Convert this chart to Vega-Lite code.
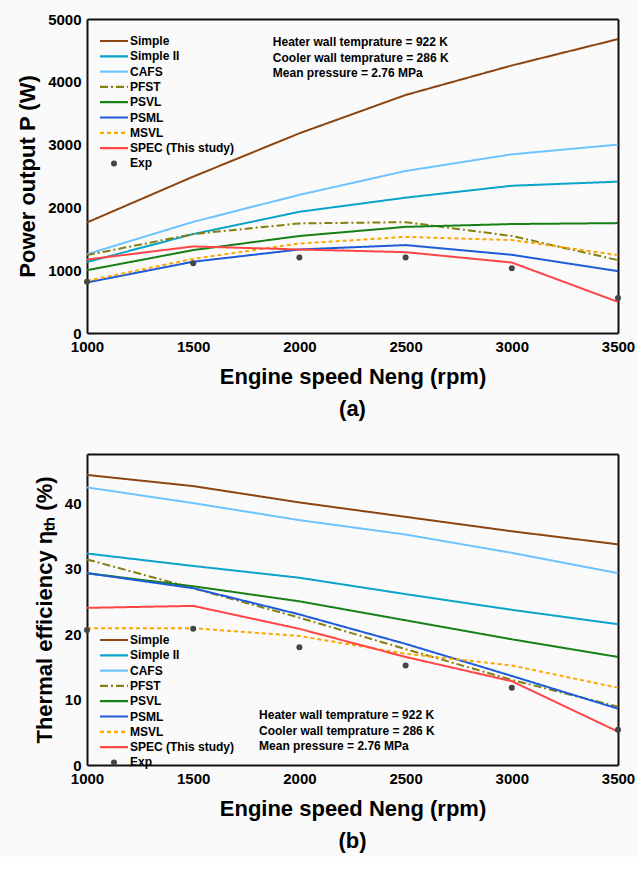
{
  "$schema": "https://vega.github.io/schema/vega-lite/v6.json",
  "background": "#fafafa",
  "padding": {"left": 16, "top": 12, "right": 2, "bottom": 5},
  "config": {
    "font": "Liberation Sans",
    "view": {"stroke": null},
    "axis": {
      "grid": false,
      "domain": true,
      "domainColor": "#111111",
      "domainWidth": 2,
      "ticks": true,
      "tickColor": "#111111",
      "tickWidth": 2,
      "tickSize": 0,
      "labelFont": "Liberation Sans",
      "labelFontWeight": "bold",
      "labelFontSize": 15,
      "labelColor": "black",
      "labelPadding": 6,
      "labelFlush": false,
      "labelOverlap": false,
      "titleFont": "Liberation Sans",
      "titleFontWeight": "bold",
      "titleFontSize": 22,
      "titleColor": "black"
    },
    "legend": {
      "labelFont": "Liberation Sans",
      "labelFontWeight": "bold",
      "labelFontSize": 12,
      "labelColor": "black",
      "symbolStrokeWidth": 2,
      "rowPadding": 3.3
    },
    "title": {"font": "Liberation Sans", "fontWeight": "bold", "fontSize": 22, "color": "black"}
  },
  "datasets": {
    "power": [
      {"model": "Simple", "speed": 1000, "value": 1760},
      {"model": "Simple", "speed": 1500, "value": 2490},
      {"model": "Simple", "speed": 2000, "value": 3180},
      {"model": "Simple", "speed": 2500, "value": 3790},
      {"model": "Simple", "speed": 3000, "value": 4260},
      {"model": "Simple", "speed": 3500, "value": 4680},
      {"model": "Simple II", "speed": 1000, "value": 1130},
      {"model": "Simple II", "speed": 1500, "value": 1575},
      {"model": "Simple II", "speed": 2000, "value": 1930},
      {"model": "Simple II", "speed": 2500, "value": 2155},
      {"model": "Simple II", "speed": 3000, "value": 2345},
      {"model": "Simple II", "speed": 3500, "value": 2410},
      {"model": "CAFS", "speed": 1000, "value": 1255},
      {"model": "CAFS", "speed": 1500, "value": 1770},
      {"model": "CAFS", "speed": 2000, "value": 2200},
      {"model": "CAFS", "speed": 2500, "value": 2580},
      {"model": "CAFS", "speed": 3000, "value": 2845},
      {"model": "CAFS", "speed": 3500, "value": 3000},
      {"model": "PFST", "speed": 1000, "value": 1240},
      {"model": "PFST", "speed": 1500, "value": 1575},
      {"model": "PFST", "speed": 2000, "value": 1745},
      {"model": "PFST", "speed": 2500, "value": 1765},
      {"model": "PFST", "speed": 3000, "value": 1545},
      {"model": "PFST", "speed": 3500, "value": 1160},
      {"model": "PSVL", "speed": 1000, "value": 1000},
      {"model": "PSVL", "speed": 1500, "value": 1320},
      {"model": "PSVL", "speed": 2000, "value": 1545},
      {"model": "PSVL", "speed": 2500, "value": 1690},
      {"model": "PSVL", "speed": 3000, "value": 1735},
      {"model": "PSVL", "speed": 3500, "value": 1750},
      {"model": "PSML", "speed": 1000, "value": 805},
      {"model": "PSML", "speed": 1500, "value": 1135},
      {"model": "PSML", "speed": 2000, "value": 1330},
      {"model": "PSML", "speed": 2500, "value": 1400},
      {"model": "PSML", "speed": 3000, "value": 1245},
      {"model": "PSML", "speed": 3500, "value": 985},
      {"model": "MSVL", "speed": 1000, "value": 830},
      {"model": "MSVL", "speed": 1500, "value": 1180},
      {"model": "MSVL", "speed": 2000, "value": 1425},
      {"model": "MSVL", "speed": 2500, "value": 1530},
      {"model": "MSVL", "speed": 3000, "value": 1480},
      {"model": "MSVL", "speed": 3500, "value": 1240},
      {"model": "SPEC (This study)", "speed": 1000, "value": 1170},
      {"model": "SPEC (This study)", "speed": 1500, "value": 1378},
      {"model": "SPEC (This study)", "speed": 2000, "value": 1330},
      {"model": "SPEC (This study)", "speed": 2500, "value": 1287},
      {"model": "SPEC (This study)", "speed": 3000, "value": 1122},
      {"model": "SPEC (This study)", "speed": 3500, "value": 495},
      {"model": "Exp", "speed": 1000, "value": 815},
      {"model": "Exp", "speed": 1500, "value": 1112},
      {"model": "Exp", "speed": 2000, "value": 1202},
      {"model": "Exp", "speed": 2500, "value": 1202},
      {"model": "Exp", "speed": 3000, "value": 1032},
      {"model": "Exp", "speed": 3500, "value": 558}
    ],
    "efficiency": [
      {"model": "Simple", "speed": 1000, "value": 44.3},
      {"model": "Simple", "speed": 1500, "value": 42.6},
      {"model": "Simple", "speed": 2000, "value": 40.1},
      {"model": "Simple", "speed": 2500, "value": 37.9},
      {"model": "Simple", "speed": 3000, "value": 35.7},
      {"model": "Simple", "speed": 3500, "value": 33.7},
      {"model": "Simple II", "speed": 1000, "value": 32.3},
      {"model": "Simple II", "speed": 1500, "value": 30.4},
      {"model": "Simple II", "speed": 2000, "value": 28.6},
      {"model": "Simple II", "speed": 2500, "value": 26.1},
      {"model": "Simple II", "speed": 3000, "value": 23.7},
      {"model": "Simple II", "speed": 3500, "value": 21.5},
      {"model": "CAFS", "speed": 1000, "value": 42.4},
      {"model": "CAFS", "speed": 1500, "value": 40.0},
      {"model": "CAFS", "speed": 2000, "value": 37.4},
      {"model": "CAFS", "speed": 2500, "value": 35.2},
      {"model": "CAFS", "speed": 3000, "value": 32.4},
      {"model": "CAFS", "speed": 3500, "value": 29.3},
      {"model": "PFST", "speed": 1000, "value": 31.4},
      {"model": "PFST", "speed": 1500, "value": 27.0},
      {"model": "PFST", "speed": 2000, "value": 22.5},
      {"model": "PFST", "speed": 2500, "value": 17.7},
      {"model": "PFST", "speed": 3000, "value": 13.0},
      {"model": "PFST", "speed": 3500, "value": 8.9},
      {"model": "PSVL", "speed": 1000, "value": 29.3},
      {"model": "PSVL", "speed": 1500, "value": 27.3},
      {"model": "PSVL", "speed": 2000, "value": 25.0},
      {"model": "PSVL", "speed": 2500, "value": 22.1},
      {"model": "PSVL", "speed": 3000, "value": 19.2},
      {"model": "PSVL", "speed": 3500, "value": 16.5},
      {"model": "PSML", "speed": 1000, "value": 29.3},
      {"model": "PSML", "speed": 1500, "value": 27.0},
      {"model": "PSML", "speed": 2000, "value": 23.0},
      {"model": "PSML", "speed": 2500, "value": 18.5},
      {"model": "PSML", "speed": 3000, "value": 13.6},
      {"model": "PSML", "speed": 3500, "value": 8.6},
      {"model": "MSVL", "speed": 1000, "value": 20.9},
      {"model": "MSVL", "speed": 1500, "value": 20.9},
      {"model": "MSVL", "speed": 2000, "value": 19.7},
      {"model": "MSVL", "speed": 2500, "value": 17.0},
      {"model": "MSVL", "speed": 3000, "value": 15.2},
      {"model": "MSVL", "speed": 3500, "value": 11.8},
      {"model": "SPEC (This study)", "speed": 1000, "value": 24.0},
      {"model": "SPEC (This study)", "speed": 1500, "value": 24.3},
      {"model": "SPEC (This study)", "speed": 2000, "value": 20.8},
      {"model": "SPEC (This study)", "speed": 2500, "value": 16.5},
      {"model": "SPEC (This study)", "speed": 3000, "value": 12.8},
      {"model": "SPEC (This study)", "speed": 3500, "value": 5.1},
      {"model": "Exp", "speed": 1000, "value": 20.6},
      {"model": "Exp", "speed": 1500, "value": 20.8},
      {"model": "Exp", "speed": 2000, "value": 18.0},
      {"model": "Exp", "speed": 2500, "value": 15.2},
      {"model": "Exp", "speed": 3000, "value": 11.8},
      {"model": "Exp", "speed": 3500, "value": 5.4}
    ]
  },
  "resolve": {
    "scale": {"color": "independent", "strokeDash": "independent"},
    "legend": {"color": "independent", "strokeDash": "independent"}
  },
  "spacing": 33,
  "vconcat": [
    {
      "width": 531,
      "height": 314,
      "data": {"name": "power"},
      "title": {"text": "(a)", "orient": "bottom", "offset": 12},
      "resolve": {"axis": {"x": "independent", "y": "independent"}},
      "layer": [
        {
          "transform": [{"filter": "datum.model !== 'Exp'"}],
          "mark": {"type": "line", "strokeWidth": 2},
          "encoding": {
            "x": {
              "field": "speed", "type": "quantitative",
              "scale": {"domain": [1000, 3500], "nice": false, "zero": false},
              "axis": {
                "orient": "bottom", "title": "Engine speed Neng (rpm)", "format": "d",
                "values": [1000, 1250, 1500, 1750, 2000, 2250, 2500, 2750, 3000, 3250, 3500],
                "labelExpr": "datum.value % 500 === 0 ? datum.label : ''",
                "titlePadding": 12,
                "encode": {"ticks": {"update": {"y2": {"signal": "datum.value % 500 === 0 ? -7 : -4"}}}}
              }
            },
            "y": {
              "field": "value", "type": "quantitative",
              "scale": {"domain": [0, 5000], "nice": false},
              "axis": {
                "orient": "left", "title": "Power output P (W)", "format": "d",
                "values": [0, 500, 1000, 1500, 2000, 2500, 3000, 3500, 4000, 4500, 5000],
                "labelExpr": "datum.value % 1000 === 0 ? datum.label : ''",
                "titlePadding": 8,
                "encode": {"ticks": {"update": {"x2": {"signal": "datum.value % 1000 === 0 ? 7 : 4"}}}}
              }
            },
            "color": {
              "field": "model", "type": "nominal",
              "scale": {
                "domain": ["Simple", "Simple II", "CAFS", "PFST", "PSVL", "PSML", "MSVL", "SPEC (This study)", "Exp"],
                "range": ["#8b4513", "#0aa3c9", "#6ec3ff", "#857f0f", "#168016", "#1e5bd8", "#ffa500", "#ff4545", "#444444"]
              },
              "legend": {
                "title": null, "orient": "none", "legendX": 21, "legendY": 16,
                "symbolType": "M-2,0L2,0", "symbolSize": 196, "labelOffset": 10,
                "encode": {"symbols": {"update": {
                  "shape": {"signal": "datum.value === 'Exp' ? 'circle' : 'M-2,0L2,0'"},
                  "size": {"signal": "datum.value === 'Exp' ? 36 : 196"},
                  "fill": {"signal": "datum.value === 'Exp' ? '#444444' : 'transparent'"},
                  "strokeWidth": {"signal": "datum.value === 'Exp' ? 0 : 2.2"},
                  "strokeDash": {"signal": "datum.value === 'PFST' ? [8, 3, 2, 3] : datum.value === 'MSVL' ? [4, 3] : [1, 0]"}
                }}}
              }
            },
            "strokeDash": {
              "field": "model", "type": "nominal",
              "scale": {
                "domain": ["Simple", "Simple II", "CAFS", "PFST", "PSVL", "PSML", "MSVL", "SPEC (This study)"],
                "range": [[1, 0], [1, 0], [1, 0], [8, 3, 2, 3], [1, 0], [1, 0], [4, 3], [1, 0]]
              },
              "legend": null
            }
          }
        },
        {
          "transform": [{"filter": "datum.model === 'Exp'"}],
          "mark": {"type": "point", "filled": true, "size": 36, "opacity": 1},
          "encoding": {
            "x": {
              "field": "speed", "type": "quantitative",
              "axis": {
                "orient": "top", "title": null, "labels": false,
                "values": [1000, 1250, 1500, 1750, 2000, 2250, 2500, 2750, 3000, 3250, 3500],
                "encode": {"ticks": {"update": {"y2": {"signal": "datum.value % 500 === 0 ? 7 : 4"}}}}
              }
            },
            "y": {
              "field": "value", "type": "quantitative",
              "axis": {
                "orient": "right", "title": null, "labels": false,
                "values": [0, 500, 1000, 1500, 2000, 2500, 3000, 3500, 4000, 4500, 5000],
                "encode": {"ticks": {"update": {"x2": {"signal": "datum.value % 1000 === 0 ? -7 : -4"}}}}
              }
            },
            "color": {"field": "model", "type": "nominal"}
          }
        },
        {
          "data": {"values": [{}]},
          "mark": {"type": "text", "align": "left", "baseline": "middle", "fontSize": 12, "fontWeight": "bold", "lineBreak": "\n", "lineHeight": 15.5, "color": "black"},
          "encoding": {
            "x": {"datum": 1875, "type": "quantitative", "axis": null},
            "y": {"datum": 4630, "type": "quantitative", "axis": null},
            "text": {"value": "Heater wall temprature = 922 K\nCooler wall temprature = 286 K\nMean pressure = 2.76 MPa"}
          }
        }
      ]
    },
    {
      "width": 531,
      "height": 311,
      "data": {"name": "efficiency"},
      "title": {"text": "(b)", "orient": "bottom", "offset": 12},
      "resolve": {"axis": {"x": "independent", "y": "independent"}},
      "layer": [
        {
          "transform": [{"filter": "datum.model !== 'Exp'"}],
          "mark": {"type": "line", "strokeWidth": 2},
          "encoding": {
            "x": {
              "field": "speed", "type": "quantitative",
              "scale": {"domain": [1000, 3500], "nice": false, "zero": false},
              "axis": {
                "orient": "bottom", "title": "Engine speed Neng (rpm)", "format": "d",
                "values": [1000, 1250, 1500, 1750, 2000, 2250, 2500, 2750, 3000, 3250, 3500],
                "labelExpr": "datum.value % 500 === 0 ? datum.label : ''",
                "titlePadding": 12,
                "encode": {"ticks": {"update": {"y2": {"signal": "datum.value % 500 === 0 ? -7 : -4"}}}}
              }
            },
            "y": {
              "field": "value", "type": "quantitative",
              "scale": {"domain": [0, 47.5], "nice": false},
              "axis": {
                "orient": "left", "title": "Thermal efficiency ηₜₕ (%)", "format": "d",
                "values": [0, 5, 10, 15, 20, 25, 30, 35, 40, 45],
                "labelExpr": "datum.value % 10 === 0 ? datum.label : ''",
                "titlePadding": 8,
                "encode": {"ticks": {"update": {"x2": {"signal": "datum.value % 10 === 0 ? 7 : 4"}}}}
              }
            },
            "color": {
              "field": "model", "type": "nominal",
              "scale": {
                "domain": ["Simple", "Simple II", "CAFS", "PFST", "PSVL", "PSML", "MSVL", "SPEC (This study)", "Exp"],
                "range": ["#8b4513", "#0aa3c9", "#6ec3ff", "#857f0f", "#168016", "#1e5bd8", "#ffa500", "#ff4545", "#444444"]
              },
              "legend": {
                "title": null, "orient": "none", "legendX": 21, "legendY": 180,
                "symbolType": "M-2,0L2,0", "symbolSize": 196, "labelOffset": 10,
                "encode": {"symbols": {"update": {
                  "shape": {"signal": "datum.value === 'Exp' ? 'circle' : 'M-2,0L2,0'"},
                  "size": {"signal": "datum.value === 'Exp' ? 36 : 196"},
                  "fill": {"signal": "datum.value === 'Exp' ? '#444444' : 'transparent'"},
                  "strokeWidth": {"signal": "datum.value === 'Exp' ? 0 : 2.2"},
                  "strokeDash": {"signal": "datum.value === 'PFST' ? [8, 3, 2, 3] : datum.value === 'MSVL' ? [4, 3] : [1, 0]"}
                }}}
              }
            },
            "strokeDash": {
              "field": "model", "type": "nominal",
              "scale": {
                "domain": ["Simple", "Simple II", "CAFS", "PFST", "PSVL", "PSML", "MSVL", "SPEC (This study)"],
                "range": [[1, 0], [1, 0], [1, 0], [8, 3, 2, 3], [1, 0], [1, 0], [4, 3], [1, 0]]
              },
              "legend": null
            }
          }
        },
        {
          "transform": [{"filter": "datum.model === 'Exp'"}],
          "mark": {"type": "point", "filled": true, "size": 36, "opacity": 1},
          "encoding": {
            "x": {
              "field": "speed", "type": "quantitative",
              "axis": {
                "orient": "top", "title": null, "labels": false,
                "values": [1000, 1250, 1500, 1750, 2000, 2250, 2500, 2750, 3000, 3250, 3500],
                "encode": {"ticks": {"update": {"y2": {"signal": "datum.value % 500 === 0 ? 7 : 4"}}}}
              }
            },
            "y": {
              "field": "value", "type": "quantitative",
              "axis": {
                "orient": "right", "title": null, "labels": false,
                "values": [0, 5, 10, 15, 20, 25, 30, 35, 40, 45],
                "encode": {"ticks": {"update": {"x2": {"signal": "datum.value % 10 === 0 ? -7 : -4"}}}}
              }
            },
            "color": {"field": "model", "type": "nominal"}
          }
        },
        {
          "data": {"values": [{}]},
          "mark": {"type": "text", "align": "left", "baseline": "middle", "fontSize": 12, "fontWeight": "bold", "lineBreak": "\n", "lineHeight": 15.5, "color": "black"},
          "encoding": {
            "x": {"datum": 1810, "type": "quantitative", "axis": null},
            "y": {"datum": 7.6, "type": "quantitative", "axis": null},
            "text": {"value": "Heater wall temprature = 922 K\nCooler wall temprature = 286 K\nMean pressure = 2.76 MPa"}
          }
        }
      ]
    }
  ]
}
